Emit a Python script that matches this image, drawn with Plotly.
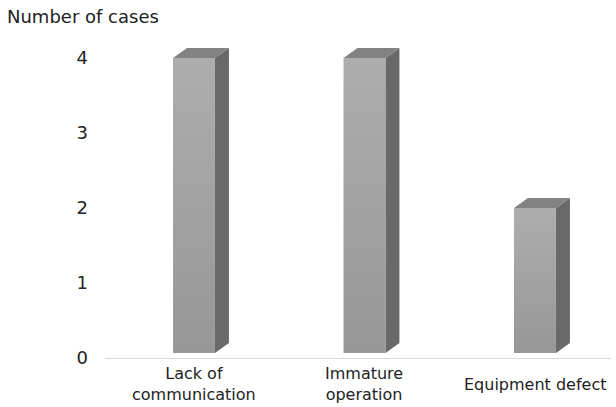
import plotly.graph_objects as go

categories = ["Lack of<br>communication", "Immature<br>operation", "Equipment defect"]
values = [4, 4, 2]
y_ticks = [0, 1, 2, 3, 4]
y_title = "Number of cases"

# style constants (3D look)
W = 0.246      # front width, x units
DX = 0.082     # depth offset x
DY = 0.133     # depth offset y
BASE = 0.067   # front face bottom

FONT = "DejaVu Sans, Verdana, sans-serif"

fig = go.Figure()
for i, v in enumerate(values):
    xl, xr = i - W / 2, i + W / 2
    # side face
    fig.add_trace(go.Scatter(
        x=[xr, xr + DX, xr + DX, xr, xr],
        y=[BASE, BASE + DY, v + DY, v, BASE],
        mode="lines", line=dict(width=0), fill="toself",
        fillcolor="#696969", hoverinfo="skip", showlegend=False))
    # top face
    fig.add_trace(go.Scatter(
        x=[xl, xr, xr + DX, xl + DX, xl],
        y=[v, v, v + DY, v + DY, v],
        mode="lines", line=dict(width=0), fill="toself",
        fillcolor="#828282", hoverinfo="skip", showlegend=False))
    # front face with gradient
    fig.add_trace(go.Scatter(
        x=[xl, xr, xr, xl, xl],
        y=[BASE, BASE, v, v, BASE],
        mode="lines", line=dict(width=0), fill="toself",
        fillgradient=dict(type="vertical",
                          colorscale=[[0, "#979797"], [1, "#adadad"]]),
        hoverinfo="skip", showlegend=False))
    # category label
    fig.add_annotation(x=i, y=-0.08, xref="x", yref="paper", text=categories[i],
                       showarrow=False, xanchor="center", yanchor="middle",
                       font=dict(size=16, color="#222222", family=FONT))

fig.update_layout(
    width=616, height=407,
    margin=dict(l=105, r=5, t=30, b=49),
    plot_bgcolor="white", paper_bgcolor="white",
    font=dict(family=FONT, size=16, color="#222222"),
    title=dict(text=y_title, x=7 / 616, xanchor="left", xref="container",
               y=1 - 17 / 407, yanchor="middle", yref="container",
               font=dict(size=18, color="#222222", family=FONT)),
    xaxis=dict(range=[-0.522, 2.446], showgrid=False, zeroline=False,
               showticklabels=False, showline=True, linecolor="#d9d9d9",
               linewidth=1, fixedrange=True),
    yaxis=dict(range=[0, 328 / 75], tickvals=y_ticks, ticktext=[str(t) for t in y_ticks],
               showgrid=False, zeroline=False, showline=False,
               ticks="", ticklabelstandoff=16, fixedrange=True,
               tickfont=dict(size=18, color="#222222", family=FONT)),
)

fig.write_html("out.html", config={"displayModeBar": False},
               post_script="document.body.style.margin='0';")
